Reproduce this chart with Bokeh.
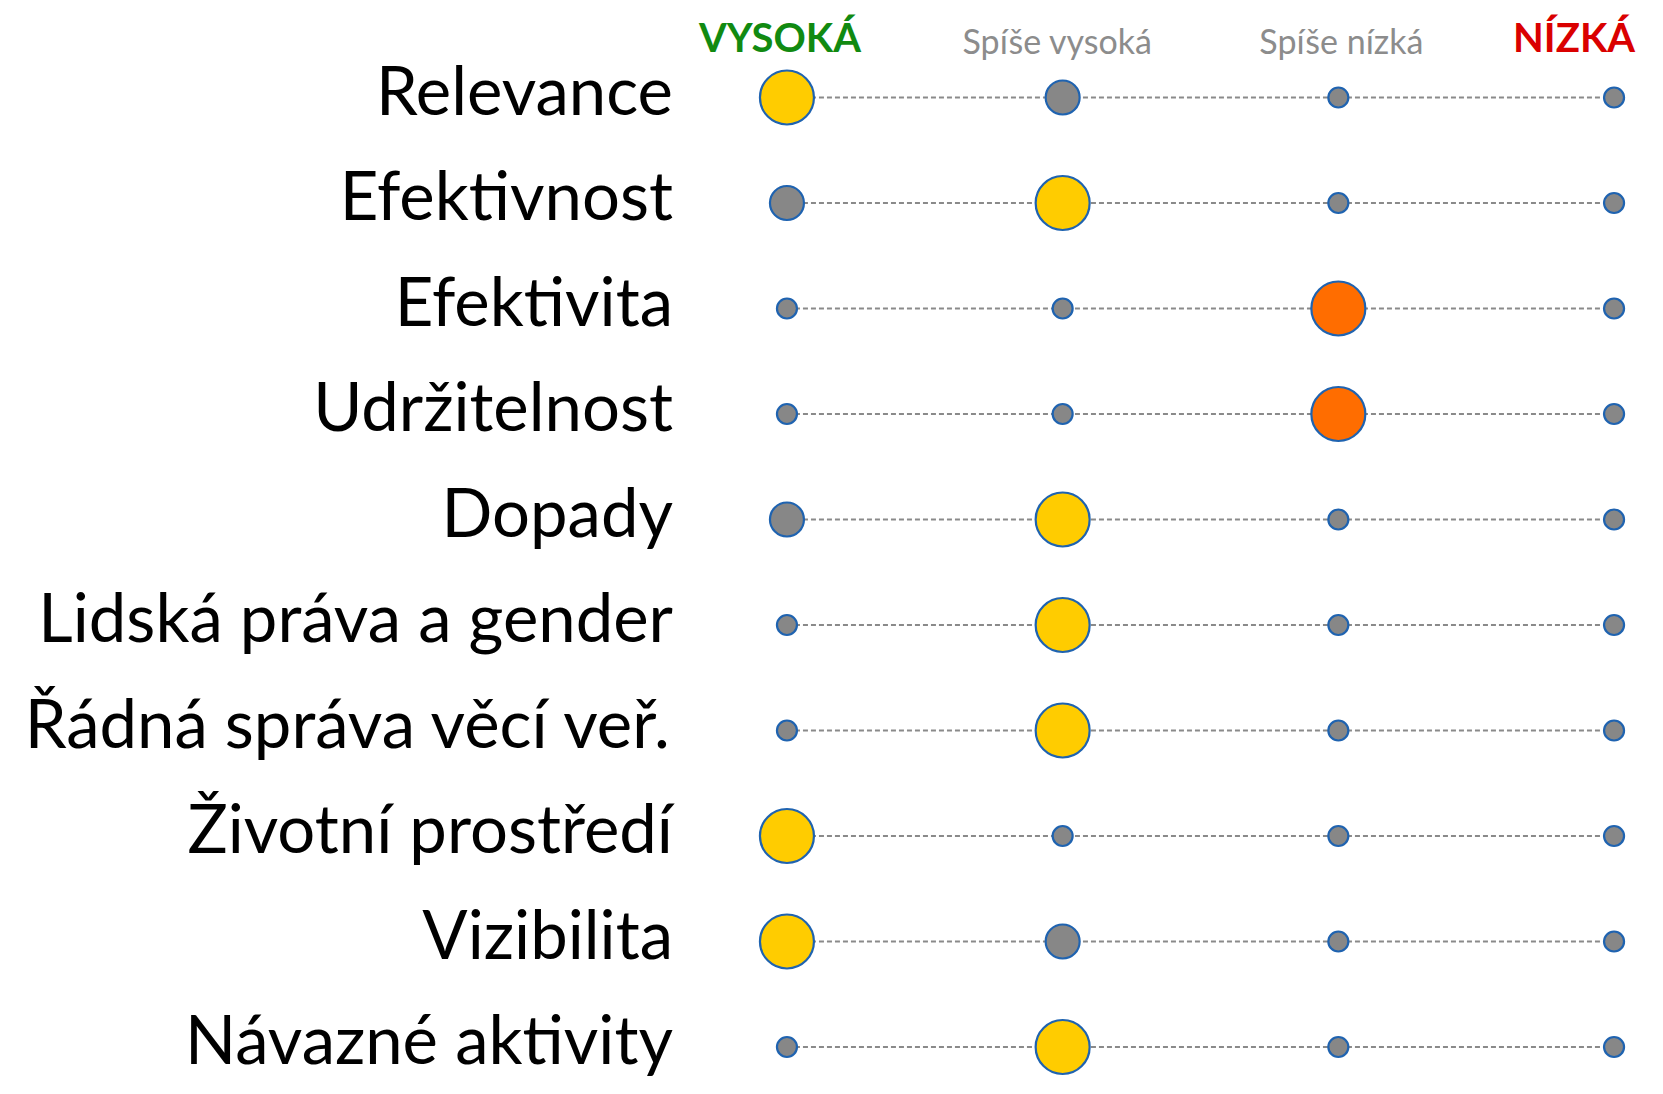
from bokeh.plotting import figure
from bokeh.models import Range1d, ColumnDataSource
from bokeh.core.properties import value
from bokeh.embed import file_html
from bokeh.resources import INLINE

# ---- data ----
categories = ["Relevance", "Efektivnost", "Efektivita", "Udržitelnost", "Dopady",
              "Lidská práva a gender", "Řádná správa věcí veř.", "Životní prostředí",
              "Vizibilita", "Návazné aktivity"]
ratings = ["VYSOKÁ", "Spíše vysoká", "Spíše nízká", "NÍZKÁ"]
# circle level per rating column: 2 = main rating, 1 = secondary, 0 = none
levels = [
    [2, 1, 0, 0],
    [1, 2, 0, 0],
    [0, 0, 2, 0],
    [0, 0, 2, 0],
    [1, 2, 0, 0],
    [0, 2, 0, 0],
    [0, 2, 0, 0],
    [2, 0, 0, 0],
    [2, 1, 0, 0],
    [0, 2, 0, 0],
]

# ---- styles ----
SIZE = {0: 20, 1: 34, 2: 54}
MAIN_COLOR = {0: "#FFCC00", 1: "#FFCC00", 2: "#FF6D00", 3: "#E00000"}
GRAY = "#878787"
OUTLINE = "#1F63B0"
HEADER_COLORS = ["#118A11", "#8C8C8C", "#8C8C8C", "#DA0000"]
HEADER_BOLD = ["bold", "normal", "normal", "bold"]
HEADER_SIZE = ["40px", "34px", "34px", "40px"]
HEADER_DX = [-7, -5, 3, -40]
HEADER_DY = [-61, -57, -57, -61]
FONT = "Lato"

W, H = 1647, 1078
x0, dx = 786.45, 275.7
y0, dy = 97.0, 105.5

p = figure(width=W, height=H, output_backend="svg", toolbar_location=None,
           x_range=Range1d((0 - x0) / dx, (W - x0) / dx),
           y_range=Range1d((H - y0) / dy, (0 - y0) / dy),
           min_border=0, outline_line_color=None, background_fill_color="white",
           border_fill_color="white")
p.axis.visible = False
p.grid.visible = False

n = len(categories)
rows = list(range(n))

# dashed connector lines
p.segment(x0=[0] * n, y0=rows, x1=[len(ratings) - 1] * n, y1=rows,
          line_color="#8A8A8A", line_width=2.2, line_dash="5 3")

# circles
xs, ys, sizes, fills = [], [], [], []
for r, lv in enumerate(levels):
    for c, l in enumerate(lv):
        xs.append(c)
        ys.append(r)
        sizes.append(SIZE[l])
        fills.append(MAIN_COLOR[c] if l == 2 else GRAY)
src = ColumnDataSource(dict(x=xs, y=ys, size=sizes, fill=fills))
p.scatter("x", "y", size="size", fill_color="fill", line_color=OUTLINE,
          line_width=2.2, source=src)

# row labels
p.text(x=[0] * n, y=rows, text=categories, text_align="right",
       text_baseline="alphabetic", x_offset=-114, y_offset=-9,
       text_font=value(FONT), text_font_size="67px", text_color="#000000")

# header labels
hsrc = ColumnDataSource(dict(x=list(range(len(ratings))), y=[0] * len(ratings),
                             text=ratings, color=HEADER_COLORS, style=HEADER_BOLD,
                             size=HEADER_SIZE, dx=HEADER_DX, dy=HEADER_DY))
p.text(x="x", y="y", text="text", text_color="color", text_font_style="style",
       text_font_size="size", x_offset="dx", y_offset="dy", text_align="center",
       text_baseline="alphabetic", text_font=value(FONT), source=hsrc)

open("out.html", "w").write(file_html(p, INLINE))
